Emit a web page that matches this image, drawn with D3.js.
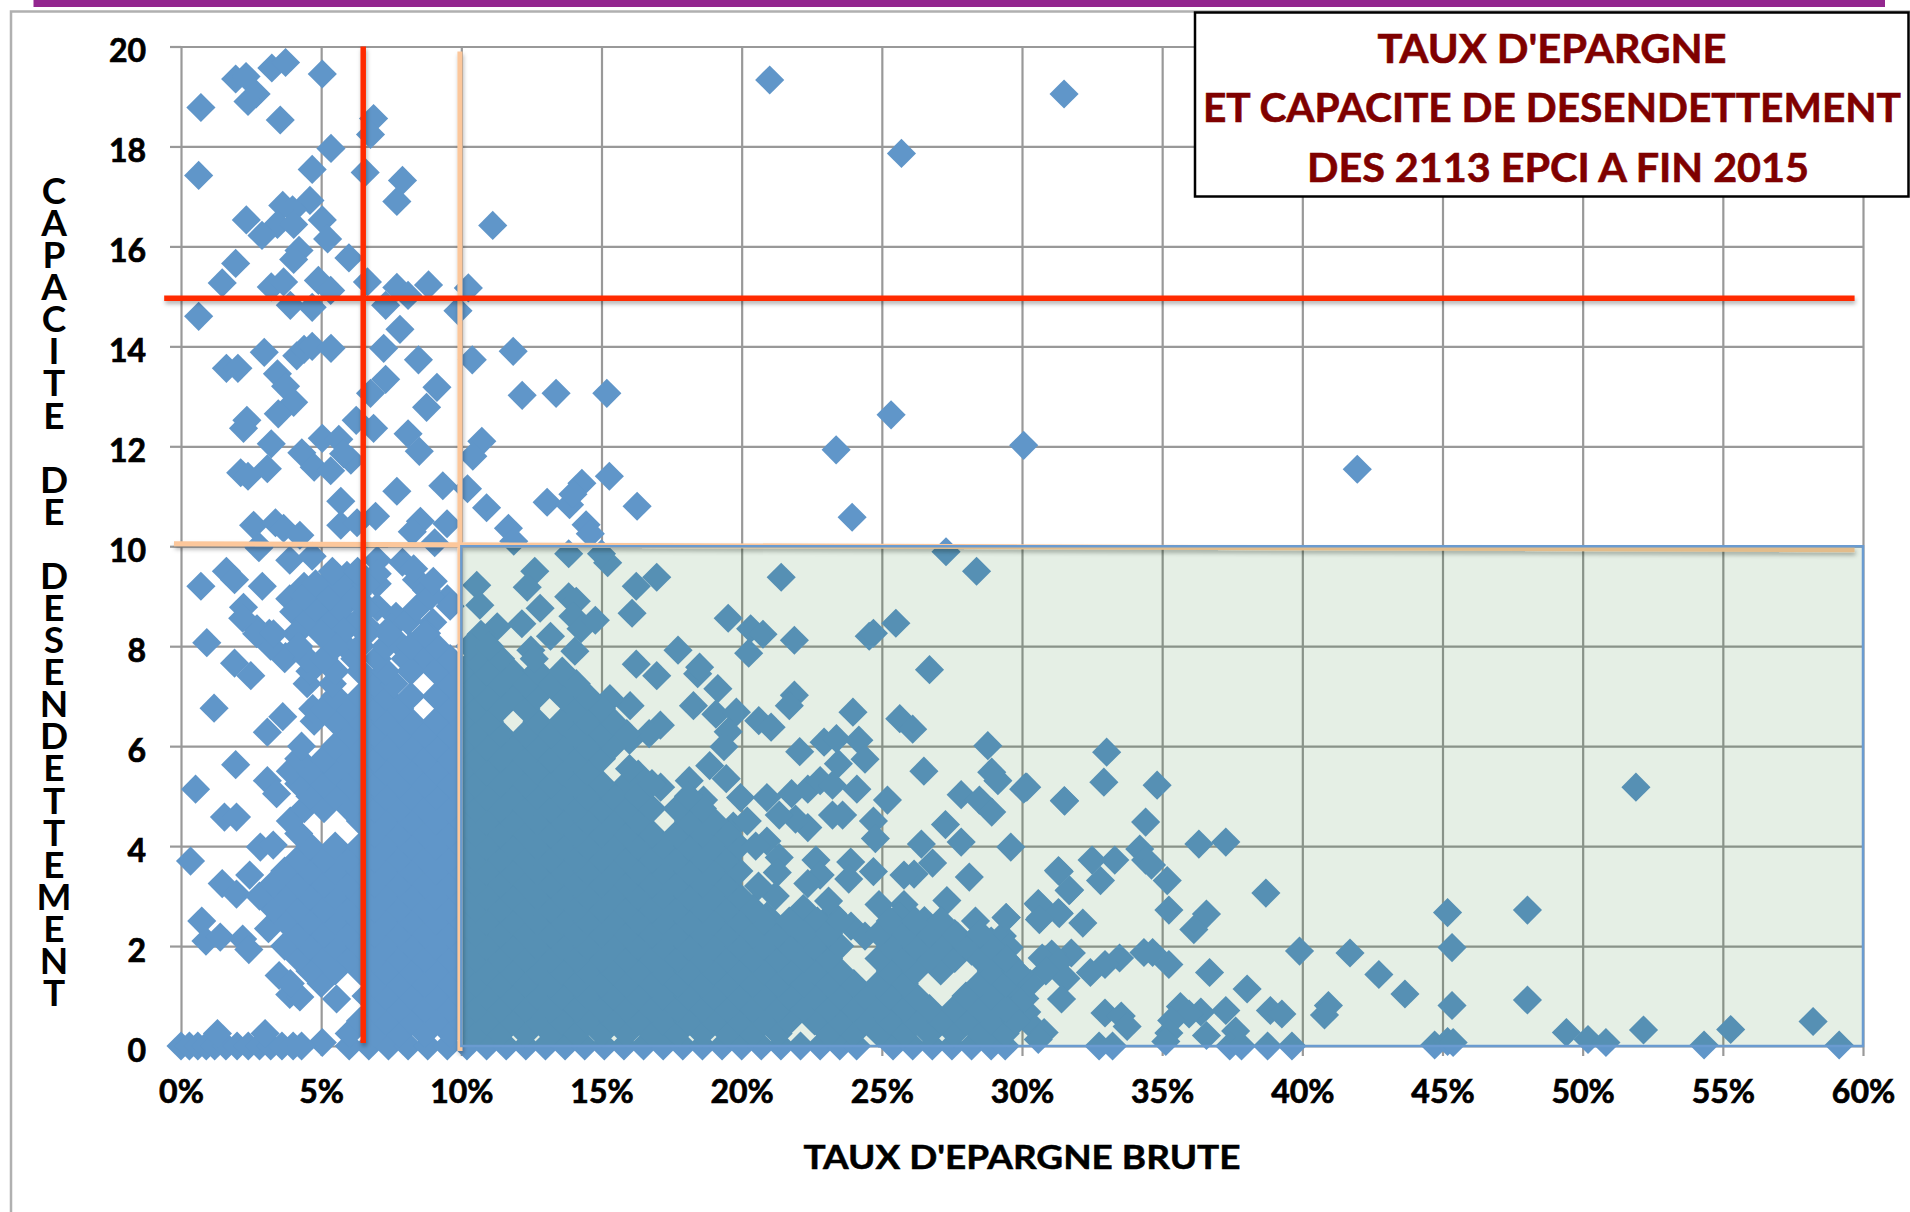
<!DOCTYPE html>
<html><head><meta charset="utf-8">
<script src="https://cdnjs.cloudflare.com/ajax/libs/d3/7.8.5/d3.min.js"></script>
<style>
html,body{margin:0;padding:0;background:#fff;overflow:hidden}
text{font-family:Lato,"Noto Sans",sans-serif;font-weight:700;fill:#000}
</style></head><body><svg id="c" width="1910" height="1212"></svg>
<script>
const xTicks=[0,5,10,15,20,25,30,35,40,45,50,55,60];
const yTicks=[0,2,4,6,8,10,12,14,16,18,20];
const titleLines=["TAUX D'EPARGNE","ET CAPACITE DE DESENDETTEMENT","DES 2113 EPCI A FIN 2015"];
const xAxisTitle="TAUX D'EPARGNE BRUTE";
const yAxisTitle="CAPACITE DE DESENDETTEMENT";
const redRate=6.5, redYears=14.96, tanRate=9.95;
const tanYearsLine=[10.05,9.93];
const zoneBounds=[10,60,0,10];

// scattered points above ten years
const upperPoints=[[.71,18.78],[.63,17.42],[.63,14.6],[1.95,19.35],[2.32,19.4],[2.68,19.05],[2.39,18.9],[3.24,19.57],[3.73,19.68],[5.04,19.45],[3.54,18.53],[6.87,18.56],[6.76,18.24],[5.35,17.96],[4.68,17.54],[6.57,17.48],[7.9,17.32],[7.7,16.9],[4.6,16.92],[3.63,16.82],[3.98,16.73],[2.33,16.53],[5.04,16.53],[3.44,16.44],[4.02,16.44],[2.89,16.22],[5.23,16.15],[11.12,16.42],[4.21,15.92],[4.02,15.74],[5.99,15.77],[1.95,15.66],[1.47,15.27],[3.22,15.19],[3.66,15.29],[4.9,15.32],[5.34,15.12],[6.65,15.29],[7.7,15.18],[8.1,15.02],[8.83,15.23],[10.25,15.17],[3.9,14.82],[4.68,14.78],[7.3,14.82],[9.88,14.71],[7.81,14.34],[2.97,13.88],[4.13,13.81],[4.39,13.94],[4.68,14],[5.35,13.96],[7.23,13.96],[8.47,13.73],[10.39,13.73],[11.85,13.9],[1.62,13.56],[2.03,13.56],[3.44,13.45],[3.73,13.2],[7.3,13.34],[6.76,13.06],[9.13,13.18],[8.76,12.78],[12.17,13.02],[13.38,13.06],[15.19,13.06],[4.02,12.88],[3.47,12.65],[2.35,12.52],[2.23,12.36],[6.25,12.52],[6.87,12.36],[8.1,12.25],[8.5,11.9],[10.73,12.1],[10.41,11.8],[3.22,12.05],[5.04,12.16],[5.63,12.14],[4.31,11.87],[4.75,11.58],[5.34,11.51],[6.06,11.72],[5.8,11.85],[2.13,11.47],[2.39,11.4],[3.08,11.55],[9.34,11.21],[10.22,11.15],[7.7,11.1],[5.7,10.9],[10.9,10.77],[13.06,10.88],[13.86,10.83],[14.3,11.26],[13.98,11.04],[15.28,11.4],[16.27,10.8],[6.94,10.6],[5.7,10.42],[6.28,10.47],[2.59,10.42],[3.37,10.47],[3.66,10.36],[4.24,10.22],[8.54,10.5],[8.25,10.29],[9.49,10.45],[9.05,10.07],[11.68,10.36],[11.87,10.1],[14.45,10.43],[14.6,10.25],[2.78,10],[41.96,11.54],[30.06,12.02],[25.33,12.63],[23.37,11.93],[23.94,10.58],[21,19.33],[31.5,19.05],[25.7,17.86],[27.29,9.89],[28.38,9.5],[21.41,9.38]];

// scattered points on the left of the mass
const leftPoints=[[.71,9.2],[1.62,9.5],[1.91,9.33],[2.9,9.2],[2.78,9.97],[3.88,9.72],[4.68,9.8],[2.23,8.78],[2.2,8.56],[.92,8.07],[1.91,7.66],[2.49,7.41],[1.18,6.76],[3.63,6.59],[3.08,6.28],[1.95,5.63],[.52,5.14],[3.08,5.31],[3.41,5.05],[1.55,4.58],[1.98,4.58],[.34,3.7],[2.83,3.98],[3.29,4.02],[1.47,3.25],[1.98,3.04],[2.45,3.42],[.74,2.5],[.89,2.1],[1.4,2.18],[2.2,2.14],[2.42,1.93],[3.12,2.35],[3.5,1.41],[3.88,1.03],[4.24,.98],[5.55,.94],[5.04,.07],[7,9.72],[7.9,9.68],[5.92,9.42],[5.2,9.25],[4.39,9.2],[3.88,8.95],[7,9.25],[8.4,9.33],[8.76,9.12],[9.5,8.95],[8.98,8.48],[7.67,8.6],[8.76,8.26],[7,8.78],[6.5,8.85],[7.52,8.39],[6.65,8.39],[5.77,8.56],[4.9,8.69],[4.02,8.69],[5.04,8.26],[5.77,8.05],[4.17,7.96],[3.73,7.79],[3.15,8.26],[2.71,8.35],[6.3,9.05],[7,9.45],
[4.5,8.5],[5.4,8.5],[6.3,8.5],[8.1,8.5],[4.8,8.75],[5.7,8.75],[6.6,8.75],[8.4,8.75],[9.6,8.8],[4.4,9],[5.3,9],[6.2,9],[8.9,9],[4.8,9.25],[5.7,9.25],[6.6,9.25],[9,9.3],[5.4,9.5],[6.3,9.5],[8.3,9.55],[4.1,8.25],[5.8,8.3],[7.7,8.1],[8,7.75],[8.7,7.75],[8.2,7.5]];

// scattered points along the upper edge of the mass
const edgePoints=[[10.55,9.22],[10.66,8.82],[12.62,9.5],[12.35,9.18],[13.83,8.99],[14.1,8.9],[12.81,8.76],[12.16,8.45],[11.28,8.39],[10.7,8.24],[13.18,8.2],[13.98,8.6],[14.27,8.35],[14.78,8.52],[14.05,7.9],[12.48,7.92],[13.83,9.85],[15.22,9.67],[15,9.85],[16.24,9.2],[16.97,9.38],[16.09,8.66],[16.24,7.64],[16.97,7.41],[17.73,7.92],[19.52,8.56],[20.32,8.35],[20.76,8.24],[20.25,7.86],[21.88,8.12],[24.55,8.2],[24.7,8.26],[25.5,8.46],[26.7,7.53],[18.43,7.45],[18.5,7.58],[19.15,7.15],[18.28,6.81],[19.08,6.64],[19.81,6.68],[19.52,6.29],[19.37,5.99],[20.61,6.51],[21.05,6.38],[21.88,7.02],[21.7,6.81],[16.02,6.81],[23.97,6.68],[25.64,6.55],[26.1,6.34],[22.07,5.89],[22.94,6.08],[23.38,6.15],[24.18,6.12],[24.4,5.74],[23.45,5.65],[26.5,5.5],[28.78,6.01],[28.92,5.48],[29.14,5.31],[30.13,5.18],[31.52,4.9],[27.83,5.03],[28.48,4.92],[28.92,4.68],[24.11,5.14],[25.2,4.92],[23.24,4.62],[23.6,4.62],[24.7,4.5],[24.77,4.15],[27.27,4.43],[27.83,4.08],[26.41,4.04],[29.6,3.98],[26.81,3.66],[26.15,3.44],[25.79,3.42],[24.7,3.49],[23.89,3.68],[23.82,3.34],[28.12,3.38],[31.33,3.49],[31.7,3.12],[30.6,2.83],[31.33,2.65],[30.67,2.57],[29.43,2.57],[28.34,2.5],[27.32,2.91],[26.52,2.51],[25.79,2.83],[24.9,2.83],[23.24,2.65],[22.65,3.72],[22.8,3.42],[22.36,3.25],[23.1,2.9],[21.34,3.77],[21.27,3.47],[20.9,4.1],[22.36,4.37],[21.92,4.54],[21.34,4.62],[20.9,4.97],[21.78,5.05],[22.36,5.14],[22.8,5.31],[23.24,5.22],[18.86,5.61],[19.45,5.35],[19.96,4.97],[18.64,4.92],[18.13,5.31],[17.11,5.18],[16.31,5.44],[17.1,6.42],[16.7,6.25],[16,6.12],
[15.3,6.95],[15.6,5],[15.9,5.25],[16,5.55],[21.7,2.48],[20.9,2.6],[22.2,2.75],[22.7,2.5],[23.9,2.4],[24.4,2.2],[25.2,2.3],[25.6,2.6],[26,2.1],[27,2.4],[27.7,2.2],[28.2,1.9],[28.9,2.1],[29.3,2.2],[21.2,3],[20.6,3.2],[19.7,4.4],[20.2,4.5]];

// scattered points on the right
const rightPoints=[[33.02,5.88],[32.92,5.28],[34.82,5.22],[30.17,5.18],[30.06,5.14],[31.51,4.91],[34.41,4.48],[36.31,4.04],[37.27,4.08],[34.2,3.94],[34.41,3.72],[34.62,3.62],[33.31,3.72],[32.5,3.72],[31.3,3.51],[32.8,3.31],[31.68,3.11],[35.18,3.31],[38.7,3.06],[30.58,2.85],[31.3,2.67],[30.62,2.53],[29.44,2.57],[32.17,2.46],[35.24,2.72],[36.58,2.64],[36.13,2.33],[45.18,2.67],[48.03,2.72],[45.34,1.97],[39.9,1.9],[41.7,1.86],[42.73,1.43],[43.66,1.04],[38.03,1.14],[36.69,1.47],[35.24,1.63],[34.66,1.87],[34.35,1.87],[33.48,1.76],[32.96,1.63],[32.44,1.47],[31.76,1.86],[31.06,1.84],[30.72,1.76],[31.3,1.67],[30.85,1.5],[31.57,1.35],[31.41,.94],[29.54,1.97],[29.54,1.67],[29.54,1.16],[30.17,.68],[29.6,.7],[30.48,.34],[30.79,.27],[30.58,.13],[32.96,.66],[33.54,.6],[33.75,.39],[32.75,0],[33.23,0],[35.65,.79],[36.38,.68],[35.96,.64],[35.34,.51],[37.27,.71],[35.24,.26],[35.13,.09],[36.58,.21],[37.62,.3],[37.41,0],[37.83,0],[38.76,0],[39.63,0],[38.86,.71],[39.27,.64],[40.93,.81],[40.79,.62],[44.72,.02],[45.18,.09],[45.38,.07],[45.34,.81],[48.03,.92],[49.42,.27],[50.19,.13],[50.83,.07],[52.17,.32],[54.33,.02],[55.28,.33],[58.22,.49],[59.15,.02],[51.9,5.18],[30.1,.95],[30.3,1.25],[29.9,1.45]];

// dense mass, read row by row
const denseRowYears=[0,.25,.5,.75,1,1.25,1.5,1.75,2,2.25,2.5,2.75,3,3.25,3.5,3.75,4,4.25,4.5,4.75,5,5.25,5.5,5.75,6,6.25,6.5,6.75,7,7.25,7.5,7.75,8,8.25];
const denseRowRates=[
[0,.3,.6,.9,1.2,1.6,2,2.4,2.8,3.2,3.6,4,4.3,6,6.7,7.4,8.1,8.8,9.5,10.2,10.9,11.6,12.3,13,13.7,14.4,15.1,15.8,16.5,17.2,17.9,18.6,19.3,20,20.7,21.4,22.1,22.8,23.5,24.1,25.4,26.1,26.8,27.5,28.2,28.9,29.4],
[1.3,3,6,6.9,7.8,8.7,9.6,10.5,11.4,12.3,13.2,14.1,15,15.9,16.8,17.7,18.6,19.5,20.4,21.3,23.1,24,24.9,25.8,26.7,27.6,28.5,29.4],
[6.4,7.3,8.2,9.1,10,10.9,11.8,12.7,13.6,14.5,15.4,16.3,17.2,18.1,19,19.9,20.8,21.7,22.6,23.5,24.4,25.3,26.2,27.1,28,28.9,29.8],
[6.9,7.8,8.7,9.6,10.5,11.4,12.3,13.2,14.1,15,15.9,16.8,17.7,18.6,19.5,20.4,21.3,22.2,23.1,24,24.9,25.8,26.7,27.6,28.5,29.4],
[6.6,7.3,8.2,9.1,10,10.9,11.8,12.7,13.6,14.5,15.4,16.3,17.2,18.1,19,19.9,20.8,21.7,22.6,23.5,24.4,25.3,26.2,28,28.9],
[3.9,5,6.9,7.8,8.7,9.6,10.5,11.4,12.3,13.2,14.1,15,15.9,16.8,17.7,18.6,19.5,20.4,21.3,22.2,23.1,24,24.9,25.8,28.5,29.4],
[4.6,5.5,6.4,7.3,8.2,9.1,10,10.9,11.8,12.7,13.6,14.5,15.4,16.3,17.2,18.1,19,19.9,20.8,21.7,22.6,23.5,25.3,26.2,27.1,28.9,29.8],
[4.2,5.1,6,6.9,7.8,8.7,9.6,10.5,11.4,12.3,13.2,14.1,15,15.9,16.8,17.7,18.6,19.5,20.4,21.3,22.2,23.1,24.9,25.8,26.7,27.6,28.5,29.4],
[3.7,4.6,5.5,6.4,7.3,8.2,9.1,10,10.9,11.8,12.7,13.6,14.5,15.4,16.3,17.2,18.1,19,19.9,20.8,21.7,22.6,23.5,25.3,26.2,27.1,28,28.9],
[4.2,5.1,6,6.9,7.8,8.7,9.6,10.5,11.4,12.3,13.2,14.1,15,15.9,16.8,17.7,18.6,19.5,20.4,21.3,22.2,23.1,24.9,25.8,26.7,27.6,28.5],
[3.7,4.6,5.5,6.4,7.3,8.2,9.1,10,10.9,11.8,12.7,13.6,14.5,15.4,16.3,17.2,18.1,19,19.9,20.8,21.7,23.5,25.3,26.2,27.1],
[3.3,4.2,5.1,6,6.9,7.8,8.7,9.6,10.5,11.4,12.3,13.2,14.1,15,15.9,16.8,17.7,18.6,19.5,20.4],
[2.8,3.7,4.6,5.5,6.4,7.3,8.2,9.1,10,10.9,11.8,12.7,13.6,14.5,15.4,16.3,17.2,18.1,19,19.9],
[3.3,4.2,5.1,6,6.9,7.8,8.7,9.6,10.5,11.4,12.3,13.2,14.1,15,15.9,16.8,17.7,18.6,19.5],
[3.7,4.6,5.5,6.4,7.3,8.2,9.1,10,10.9,11.8,12.7,13.6,14.5,15.4,16.3,17.2,18.1,19,19.9],
[4.2,5.1,6,6.9,7.8,8.7,9.6,10.5,11.4,12.3,13.2,14.1,15,15.9,16.8,17.7,18.6,19.5],
[4.6,5.5,6.4,7.3,8.2,9.1,10,10.9,11.8,12.7,13.6,14.5,15.4,16.3,17.2,18.1,19,19.9,20.5],
[4.2,6.9,7.8,8.7,9.6,10.5,11.4,12.3,13.2,14.1,15,15.9,16.8,17.7,18.6,19.5],
[3.9,6.4,7.3,8.2,9.1,10,10.9,11.8,12.7,13.6,14.5,15.4,16.3,18.1,19],
[4.4,5.1,6,6.9,7.8,8.7,9.6,10.5,11.4,12.3,13.2,14.1,15,15.9,16.8,17.7,18.6],
[4.6,5.5,6.4,7.3,8.2,9.1,10,10.9,11.8,12.7,13.6,14.5,15.4,16.3,18.1],
[4.2,5.1,6,6.9,7.8,8.7,9.6,10.5,11.4,12.3,13.2,14.1,15,16.8],
[3.9,4.6,5.5,6.4,7.3,8.2,9.1,10,10.9,11.8,12.7,13.6,14.5],
[4.2,5.1,6,6.9,7.8,8.7,9.6,10.5,11.4,12.3,13.2,14.1,15],
[4.3,5.5,6.4,7.3,8.2,9.1,10,10.9,11.8,12.7,13.6,14.5,15.4],
[6,6.9,7.8,8.7,9.6,10.5,11.4,12.3,13.2,14.1,15,15.9],
[4.75,5.5,6.4,7.3,8.2,9.1,10,11,12.7,13.6,14.5,15.4],
[4.7,5.1,6,6.9,7.8,9.6,10.5,11.4,12.3,14.1,15],
[5.5,6.4,7.3,8.2,9.1,10,10.9,11.8,12.7,13.6,14.5],
[4.5,5.4,6.9,7.6,9.6,10.5,11.4,12.3,13.2,14.1],
[4.6,5.5,6.4,7.3,9.1,10,10.9,11.8,12.7,13.6],
[3.7,4.5,5.1,6.2,7,9.6,10.5,11.4,12.6],
[3.2,4.2,5.5,6.4,7.3,8.2,9.1,10.3,11],
[2.7,3.3,5,6.6,7.4,8.7]
];

const W=1910,H=1212;
const x=d3.scaleLinear().domain([0,60]).range([181,1863]);
const y=d3.scaleLinear().domain([0,20]).range([1046,46.5]);
const svg=d3.select("#c");
const defs=svg.append("defs");
const f=defs.append("filter").attr("id","sh").attr("filterUnits","userSpaceOnUse").attr("x",0).attr("y",0).attr("width",W).attr("height",H);
f.append("feDropShadow").attr("dx",1).attr("dy",3).attr("stdDeviation",2).attr("flood-color","#000").attr("flood-opacity",.3);

// top band and outer frame
svg.append("rect").attr("x",33.5).attr("y",0).attr("width",1851.5).attr("height",7).attr("fill","#93278f");
svg.append("path").attr("d",`M11,${H}V11.5H${W}`).attr("fill","none").attr("stroke","#b0b0b0").attr("stroke-width",2.5);

// grid via axes
const gY=svg.append("g").attr("transform",`translate(${x(0)},0)`)
  .call(d3.axisLeft(y).tickValues(yTicks).tickSize(11).tickPadding(24).tickFormat(d=>d));
const gX=svg.append("g").attr("transform",`translate(0,${y(0)})`)
  .call(d3.axisBottom(x).tickValues(xTicks).tickSize(10).tickPadding(24).tickFormat(d=>d+"%"));
[gY,gX].forEach(g=>{g.select(".domain").remove();g.selectAll("line").attr("stroke","#999").attr("stroke-width",2.2);g.selectAll("text").style("font-size","32px").style("stroke","#000").style("stroke-width",".7px").attr("fill","#000");});
gY.selectAll(".tick text").attr("dy",".32em").attr("transform","translate(0,5)");
gY.selectAll(".tick").append("line").attr("x1",0).attr("x2",x(60)-x(0)).attr("stroke","#999").attr("stroke-width",2.2);
gX.selectAll(".tick").append("line").attr("y1",0).attr("y2",y(20)-y(0)).attr("stroke","#999").attr("stroke-width",2.2);

// points
const densePoints=d3.merge(denseRowRates.map((r,i)=>r.map(v=>[v,denseRowYears[i]])));
const points=d3.merge([upperPoints,leftPoints,edgePoints,rightPoints,densePoints]);
const diamond=d3.symbol().type(d3.symbolSquare).size(425)();
svg.append("g").selectAll("path").data(points).join("path").attr("d",diamond)
  .attr("transform",d=>`translate(${x(d[0])},${y(d[1])}) rotate(45)`).attr("fill","#6096c9");

// thresholds
const tanG=svg.append("g").attr("filter","url(#sh)");
tanG.append("line").attr("x1",x(-.25)).attr("x2",x(59.7)).attr("y1",y(tanYearsLine[0])).attr("y2",y(tanYearsLine[1])).attr("stroke","#fcc79b").attr("stroke-width",5);
tanG.append("line").attr("x1",x(tanRate)).attr("x2",x(tanRate)).attr("y1",y(19.9)).attr("y2",y(-.1)).attr("stroke","#fcc79b").attr("stroke-width",5);
const redG=svg.append("g").attr("filter","url(#sh)");
redG.append("line").attr("x1",x(-.6)).attr("x2",x(59.7)).attr("y1",y(redYears)).attr("y2",y(redYears)).attr("stroke","#ff2a00").attr("stroke-width",5.5);
redG.append("line").attr("x1",x(redRate)).attr("x2",x(redRate)).attr("y1",y(20)).attr("y2",y(.06)).attr("stroke","#ff2a00").attr("stroke-width",5.5);

// green zone
svg.append("rect").attr("x",x(zoneBounds[0])).attr("y",y(zoneBounds[3])).attr("width",x(zoneBounds[1])-x(zoneBounds[0])).attr("height",y(zoneBounds[2])-y(zoneBounds[3]))
  .attr("fill","#006400").attr("fill-opacity",.1).attr("stroke","#6a9bd0").attr("stroke-width",2.5);

// axis titles
svg.append("text").attr("x",1022).attr("y",1169).attr("text-anchor","middle").style("font-size","33px").style("stroke","#000").style("stroke-width",".5px").attr("textLength",437).attr("lengthAdjust","spacingAndGlyphs").text(xAxisTitle);
const letters=yAxisTitle.split("");
svg.append("text").attr("x",letters.map(()=>54).join(" ")).attr("y",letters.map((d,i)=>191+i*32.08+13).join(" "))
  .attr("text-anchor","middle").style("font-size","37px").text(yAxisTitle);

// title box
svg.append("rect").attr("x",1195).attr("y",12.5).attr("width",713.5).attr("height",184).attr("fill","#fff").attr("stroke","#000").attr("stroke-width",2.5);
const widths=[349,698,502];
const centres=[1552,1552,1558];
svg.append("g").selectAll("text").data(titleLines).join("text")
  .attr("x",(d,i)=>centres[i]).attr("y",(d,i)=>[63,122,182][i]).attr("text-anchor","middle").style("font-size","40px").style("fill","#7f0000").style("stroke","#7f0000").style("stroke-width",".6px")
  .attr("textLength",(d,i)=>widths[i]).attr("lengthAdjust","spacingAndGlyphs").text(d=>d);
</script></body></html>
